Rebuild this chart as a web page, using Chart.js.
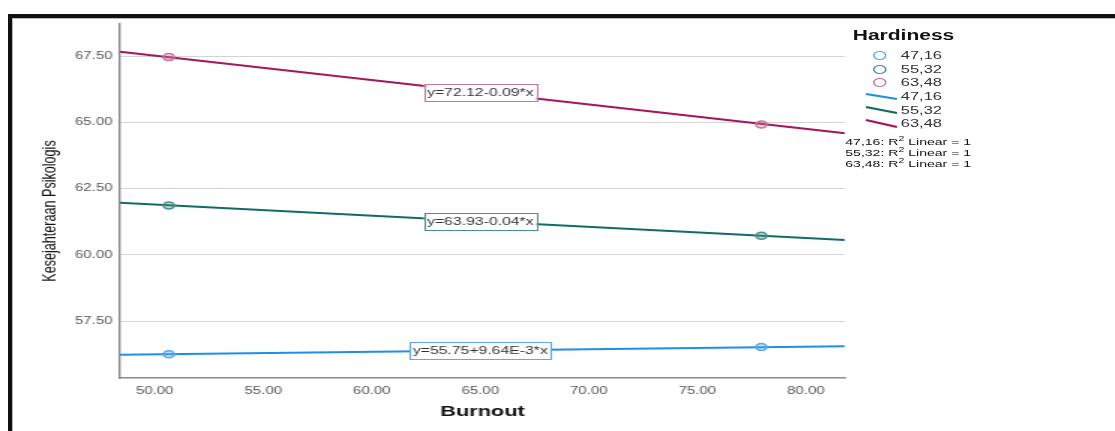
<!DOCTYPE html>
<html>
<head>
<meta charset="utf-8">
<script src="https://cdn.jsdelivr.net/npm/chart.js@4/dist/chart.umd.min.js"></script>
<style>
  html, body { margin:0; padding:0; background:#fff; width:1115px; height:431px; overflow:hidden; font-family:"Liberation Sans", Arial, sans-serif; }
  #frame { position:absolute; left:8px; top:14px; width:1200px; height:500px; border-top:4px solid #111; border-left:4px solid #111; }
  #frame2 { position:absolute; left:12px; top:18px; width:1200px; height:500px; border-top:1px solid #bbb; border-left:1px solid #bbb; }
  #wrap { position:absolute; left:0; top:0; width:743.333px; height:431px; transform:scaleX(1.5); transform-origin:0 0; }
  #wrap canvas { position:absolute; left:0; top:0; }
  .lg { position:absolute; color:#333; white-space:nowrap; line-height:1; }
  .circ { position:absolute; width:7px; height:7px; border-radius:50%; border:1.5px solid; background:#fff; }
</style>
</head>
<body>
<div id="frame"></div><div id="frame2"></div>
<div id="wrap">
  <canvas id="c"></canvas>
  <div class="lg" style="left:568.5px; top:28px; font-size:14px; font-weight:bold; color:#111;">Hardiness</div>
  <div class="circ" style="left:581.5px; top:51px; border-color:#5aa8ef;"></div>
  <div class="circ" style="left:581.5px; top:64.5px; border-color:#4a8f8a;"></div>
  <div class="circ" style="left:581.5px; top:78px; border-color:#c8769a;"></div>
  <div class="lg" style="left:600.5px; top:50px; font-size:11px;">47,16</div>
  <div class="lg" style="left:600.5px; top:63.5px; font-size:11px;">55,32</div>
  <div class="lg" style="left:600.5px; top:77px; font-size:11px;">63,48</div>
  <svg style="position:absolute; left:0; top:0; width:743px; height:431px; pointer-events:none;">
    <line x1="577.3" y1="94" x2="598" y2="99" stroke="#1f8fe6" stroke-width="2"/>
    <line x1="577.3" y1="107" x2="598" y2="113" stroke="#136b65" stroke-width="2"/>
    <line x1="577.3" y1="120" x2="598" y2="127" stroke="#a5165a" stroke-width="2"/>
  </svg>
  <div class="lg" style="left:600.5px; top:91px; font-size:11px;">47,16</div>
  <div class="lg" style="left:600.5px; top:104.5px; font-size:11px;">55,32</div>
  <div class="lg" style="left:600.5px; top:118px; font-size:11px;">63,48</div>
  <div class="lg" style="left:563.5px; top:137px; font-size:9.4px; color:#111;">47,16: R<sup style="font-size:7px; vertical-align:4px; line-height:0;">2</sup> Linear = 1</div>
  <div class="lg" style="left:563.5px; top:148px; font-size:9.4px; color:#111;">55,32: R<sup style="font-size:7px; vertical-align:4px; line-height:0;">2</sup> Linear = 1</div>
  <div class="lg" style="left:563.5px; top:159px; font-size:9.4px; color:#111;">63,48: R<sup style="font-size:7px; vertical-align:4px; line-height:0;">2</sup> Linear = 1</div>
</div>
<script>
// ---- data ----
const seriesNames = ["47,16", "55,32", "63,48"];
const lineX = [48.4, 81.8];
const lineLow = [56.23, 56.55];
const lineMid = [61.96, 60.56];
const lineHigh = [67.66, 64.59];
const pointX = [50.65, 77.95];
const ptsLow = [56.25, 56.52];
const ptsMid = [61.86, 60.72];
const ptsHigh = [67.46, 64.92];
const equations = ["y=55.75+9.64E-3*x", "y=63.93-0.04*x", "y=72.12-0.09*x"];
const xRange = [48.4, 81.8];
const yRange = [55.35, 68.71];
const xTitle = "Burnout";
const yTitle = "Kesejahteraan Psikologis";
const labelAtX = 65;

const lineColors = ["#1f8fe6", "#136b65", "#a5165a"];
const ptBorder = ["#5aa8ef", "#4a8f8a", "#c8769a"];
const ptFill = ["rgba(90,168,239,0.35)", "rgba(74,143,138,0.35)", "rgba(200,118,154,0.35)"];

const toXY = (xs, ys) => xs.map((x, i) => ({x, y: ys[i]}));
const lineSets = [lineLow, lineMid, lineHigh];
const ptSets = [ptsLow, ptsMid, ptsHigh];

const datasets = [];
ptSets.forEach((ys, i) => datasets.push({
  label: seriesNames[i], data: toXY(pointX, ys), showLine: false, order: 0,
  pointRadius: 3.5, pointBorderWidth: 1.5, pointBorderColor: ptBorder[i], pointBackgroundColor: ptFill[i]
}));
lineSets.forEach((ys, i) => datasets.push({
  label: seriesNames[i], data: toXY(lineX, ys), showLine: true, order: 1,
  borderColor: lineColors[i], borderWidth: 2, pointRadius: 0, fill: false
}));

const eqPlugin = {
  id: 'eqLabels',
  afterDatasetsDraw(chart) {
    const ctx = chart.ctx, xs = chart.scales.x, ys = chart.scales.y;
    ctx.save();
    ctx.font = '10.5px "Liberation Sans", Arial, sans-serif';
    ctx.textBaseline = 'middle';
    ctx.textAlign = 'center';
    lineSets.forEach((vals, i) => {
      const t = (labelAtX - lineX[0]) / (lineX[1] - lineX[0]);
      const v = vals[0] + t * (vals[1] - vals[0]);
      const px = xs.getPixelForValue(labelAtX), py = ys.getPixelForValue(v);
      const w = ctx.measureText(equations[i]).width + 4, h = 17;
      ctx.fillStyle = '#fff';
      ctx.fillRect(px - w/2, py - h/2, w, h);
      ctx.strokeStyle = ptBorder[i];
      ctx.lineWidth = 1;
      ctx.strokeRect(Math.round(px - w/2) + 0.5, Math.round(py - h/2) + 0.5, Math.round(w), h);
      ctx.fillStyle = '#333';
      ctx.fillText(equations[i], px, py + 0.5);
    });
    ctx.restore();
  }
};
const yTitlePlugin = {
  id: 'yTitle',
  afterDraw(chart) {
    const ctx = chart.ctx;
    ctx.save();
    ctx.translate(34, 211);
    ctx.rotate(-Math.PI / 2);
    ctx.font = '12.6px "Liberation Sans", Arial, sans-serif';
    ctx.fillStyle = '#111';
    ctx.textAlign = 'center';
    ctx.textBaseline = 'middle';
    ctx.fillText(yTitle, 0, 0);
    ctx.restore();
  }
};

const fmt = v => Number(v).toFixed(2);
new Chart(document.getElementById('c'), {
  type: 'scatter',
  data: { datasets },
  plugins: [eqPlugin, yTitlePlugin],
  options: {
    responsive: true, maintainAspectRatio: false, animation: false,
    layout: { padding: { left: 0, top: 24, right: 180, bottom: 0 } },
    plugins: { legend: { display: false }, tooltip: { enabled: false } },
    scales: {
      x: {
        type: 'linear', min: xRange[0], max: xRange[1],
        afterFit(s) { s.height = 53; },
        grid: { display: false, drawTicks: false },
        border: { display: true, color: '#8a8a8a', width: 1.5 },
        ticks: { stepSize: 5, includeBounds: false, padding: 7, color: '#555', font: { size: 10, family: '"Liberation Sans", Arial, sans-serif' }, callback: fmt, maxRotation: 0 },
        title: { display: true, text: xTitle, color: '#111', font: { size: 14.5, weight: 'bold', family: '"Liberation Sans", Arial, sans-serif' }, padding: { top: 0, bottom: 10.3 } }
      },
      y: {
        type: 'linear', min: yRange[0], max: yRange[1],
        afterFit(s) { s.width = 80; },
        grid: { color: '#d4d4d4', lineWidth: 1, drawTicks: false },
        border: { display: true, color: '#8a8a8a', width: 1.4 },
        ticks: { stepSize: 2.5, includeBounds: false, padding: 5, color: '#555', font: { size: 10, family: '"Liberation Sans", Arial, sans-serif' }, callback: fmt }
      }
    }
  }
});
</script>
</body>
</html>
